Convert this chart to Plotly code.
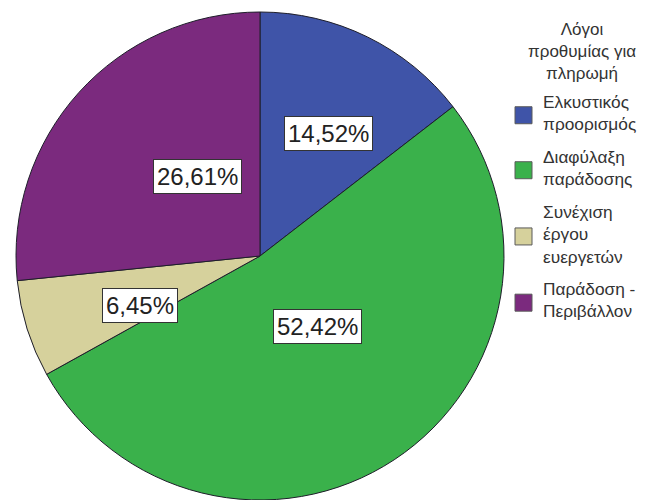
import math
import plotly.graph_objects as go

# Slice data (clockwise from 12 o'clock)
categories = [
    "Ελκυστικός<br>προορισμός",
    "Διαφύλαξη<br>παράδοσης",
    "Συνέχιση<br>έργου<br>ευεργετών",
    "Παράδοση -<br>Περιβάλλον",
]
percentages = [14.52, 52.42, 6.45, 26.61]
colors = ["#3F54A8", "#3AB14B", "#D6D19C", "#7B2A7E"]
legend_title = "Λόγοι<br>προθυμίας για<br>πληρωμή"

# label distance from the centre, as a fraction of the radius
label_radius = [0.64, 0.43, 0.68, 0.59]

W, H = 656, 500
cx, cy, R = 260, 256, 244  # pie centre / radius in pixels
FONT = "Liberation Sans, Arial"
TEXT_COLOR = "#333333"


def px_x(v):
    return v / W


def px_y(v):
    return 1 - v / H


fig = go.Figure(
    go.Pie(
        labels=categories,
        values=percentages,
        sort=False,
        direction="clockwise",
        rotation=0,
        textinfo="none",
        hoverinfo="label+percent",
        marker=dict(colors=colors, line=dict(color="#1e1e2a", width=1)),
        domain=dict(x=[px_x(cx - R), px_x(cx + R)], y=[px_y(cy + R), px_y(cy - R)]),
        showlegend=False,
    )
)

# percentage labels in white boxes, placed along each slice's mid-angle
total = sum(percentages)
cum = 0.0
annotations = []
for val, rf in zip(percentages, label_radius):
    mid = (cum + val / 2) / total * 2 * math.pi
    cum += val
    lx = cx + rf * R * math.sin(mid)
    ly = cy - rf * R * math.cos(mid)
    annotations.append(
        dict(
            x=px_x(lx), y=px_y(ly), xref="paper", yref="paper",
            text=f"{val:.2f}%".replace(".", ","),
            showarrow=False,
            font=dict(family=FONT, size=24, color="#222222"),
            bgcolor="white", bordercolor="#333333", borderwidth=1, borderpad=3,
        )
    )

# legend heading, centred over the entries
annotations.append(
    dict(
        x=px_x(582), y=px_y(18), xref="paper", yref="paper",
        xanchor="center", yanchor="top", align="center",
        text=legend_title, showarrow=False,
        font=dict(family=FONT, size=17, color=TEXT_COLOR),
    )
)

# legend entries: colour swatch + wrapped category name
shapes = []
leg_font = 17.3
line_h = 1.3 * leg_font
entry_gap = 10
sw = 17
y_line = 102  # centre of the first text line of the current entry
for name, col in zip(categories, colors):
    n_lines = name.count("<br>") + 1
    annotations.append(
        dict(
            x=px_x(541), y=px_y(y_line - line_h / 2 - 1), xref="paper", yref="paper",
            xanchor="left", yanchor="top", align="left",
            text=name, showarrow=False,
            font=dict(family=FONT, size=leg_font, color=TEXT_COLOR),
        )
    )
    yc = y_line + (n_lines - 1) * line_h / 2 + 2
    shapes.append(
        dict(
            type="rect", xref="paper", yref="paper",
            x0=px_x(515), x1=px_x(515 + sw), y0=px_y(yc - sw / 2), y1=px_y(yc + sw / 2),
            fillcolor=col, line=dict(color="#5a5a5a", width=1),
        )
    )
    y_line += n_lines * line_h + entry_gap

fig.update_layout(
    width=W, height=H,
    margin=dict(l=0, r=0, t=0, b=0),
    paper_bgcolor="white", plot_bgcolor="white",
    annotations=annotations,
    shapes=shapes,
    showlegend=False,
)

fig.write_html("out.html")
